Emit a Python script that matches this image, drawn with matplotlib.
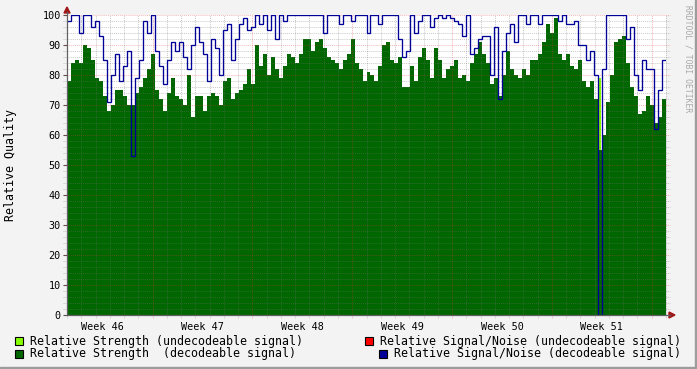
#Relative quality graph (rrdtool style)

import numpy as np
import matplotlib
matplotlib.use('Agg')
import matplotlib.pyplot as plt
from matplotlib.patches import Rectangle, Polygon

#data - 150 samples over 42 days
days = 42
strength = [78,84,85,84,90,89,85,79,78,73,68,70,75,75,73,70,70,74,76,79,
            82,87,75,72,68,74,79,73,72,70,80,66,73,73,68,73,74,
            73,70,78,79,72,74,75,77,82,77,90,83,87,80,86,82,79,83,87,86,
            84,87,92,92,88,91,92,89,86,85,84,82,85,87,92,84,82,78,81,
            80,78,83,90,91,85,84,86,76,76,83,78,86,89,85,79,89,85,79,82,
            83,85,79,80,78,84,87,91,87,84,77,79,73,80,88,82,80,
            79,82,80,85,85,87,91,97,94,99,87,85,87,83,82,85,78,76,78,72,
            55,60,71,80,91,92,93,84,76,73,67,68,73,70,64,66,72]
snr = [98,100,100,94,100,100,96,98,93,85,71,80,87,78,83,88,53,79,85,98,
       94,100,88,83,77,85,91,88,91,86,82,90,96,91,87,78,92,
       89,80,95,97,85,92,97,99,95,96,100,97,100,95,100,92,100,98,100,100,
       100,100,100,100,100,100,100,94,100,100,100,97,100,100,98,100,100,100,94,
       100,100,97,100,100,100,100,92,86,88,100,94,98,100,100,96,99,100,99,100,
       99,98,97,93,100,87,89,92,93,93,80,96,72,88,94,97,91,
       100,100,97,100,100,97,100,100,100,100,98,100,97,97,98,90,90,85,88,80,
       0,82,100,100,100,100,100,92,96,80,75,85,82,82,62,75,85]
undec_day = [37.38]
undec_val = [79]
week_labels = ['Week 46','Week 47','Week 48','Week 49','Week 50','Week 51']
first_week = 6  #day of first week boundary

W, H = 697, 369
def fx(x): return x / W
def fy(y): return 1 - y / H

mono = 'DejaVu Sans Mono'
edges = np.linspace(0, days, len(strength) + 1)

fig = plt.figure(figsize=(W/100, H/100), dpi=100)
fig.patch.set_facecolor('#F3F3F3')
ax = fig.add_axes([fx(67), 54/H, 599/W, 300/H])
ax.set_facecolor('white')
ax.set_xlim(0, days)
ax.set_ylim(0, 100)

#areas and line
ax.bar(undec_day, undec_val, width=0.14, color='#88FF00', zorder=1)
ax.stairs(strength, edges, fill=True, color='#006600', zorder=2)
ax.stairs(snr, edges, baseline=None, color='#000099', lw=0.95, zorder=5)

#grid
minor_c = (0.45, 0.45, 0.45, 0.38)
major_c = (0.9, 0.2, 0.2, 0.35)
for v in range(0, 101, 2):
    if v % 10:
        ax.axhline(v, -0.006, 1.006, color=minor_c, lw=0.7, ls=(0,(1,1)), zorder=3, clip_on=False)
for d in range(0, days+1):
    if (d - first_week) % 7:
        ax.axvline(d, -0.01, 1.0, color=minor_c, lw=0.7, ls=(0,(1,1)), zorder=3, clip_on=False)
for v in range(10, 101, 10):
    ax.axhline(v, -0.006, 1.006, color=major_c, lw=0.7, ls=(0,(1,1)), zorder=3, clip_on=False)
for d in range(first_week, days, 7):
    ax.axvline(d, -0.01, 1.0, color=major_c, lw=0.7, ls=(0,(1,1)), zorder=3, clip_on=False)

for s in ax.spines.values():
    s.set_visible(False)
ax.set_yticks(range(0, 101, 10))
ax.set_yticklabels([str(v) for v in range(0, 101, 10)], fontfamily=mono, fontsize=7.3)
ax.set_xticks([first_week - 3.5 + 7*i for i in range(len(week_labels))])
ax.set_xticklabels(week_labels, fontfamily=mono, fontsize=7.3)
ax.tick_params(axis='y', length=3, width=0.8, color='#505050', pad=1.5)
ax.tick_params(axis='x', length=0, pad=5)

#axes with arrows
fig.add_artist(plt.Line2D([fx(67), fx(67)], [fy(315), fy(12)], color='#606060', lw=0.9))
fig.add_artist(plt.Line2D([fx(67), fx(670)], [fy(315), fy(315)], color='#606060', lw=0.9))
fig.add_artist(Polygon([(fx(64), fy(13)), (fx(70), fy(13)), (fx(67), fy(7))], closed=True, color='#A01818'))
fig.add_artist(Polygon([(fx(669), fy(312)), (fx(669), fy(318)), (fx(675), fy(315))], closed=True, color='#A01818'))

#labels
fig.text(fx(11), fy(165), 'Relative Quality', rotation=90, ha='center', va='center', fontfamily=mono, fontsize=8.4)
fig.text(fx(688), fy(59), 'RRDTOOL / TOBI OETIKER', rotation=270, ha='center', va='center', fontfamily=mono, fontsize=5.8, color='#A8A8A8')

#legend
legend = [(15, 341, '#88FF00', 'Relative Strength (undecodeable signal)'),
          (365, 341, '#FF0000', 'Relative Signal/Noise (undecodeable signal)'),
          (15, 354, '#006600', 'Relative Strength  (decodeable signal)'),
          (379, 354, '#000099', 'Relative Signal/Noise (decodeable signal)')]
for x, y, c, t in legend:
    fig.add_artist(Rectangle((fx(x), fy(y+4)), 8/W, 8/H, facecolor=c, edgecolor='black', lw=0.8))
    fig.text(fx(x+15), fy(y), t, ha='left', va='center', fontfamily=mono, fontsize=8.35)

#frame
fig.add_artist(Rectangle((fx(695), 0), 2/W, 1, color='#9C9C9C'))
fig.add_artist(Rectangle((0, 0), 1, 2/H, color='#9C9C9C'))

plt.savefig('out.png', dpi=100, facecolor=fig.get_facecolor())
